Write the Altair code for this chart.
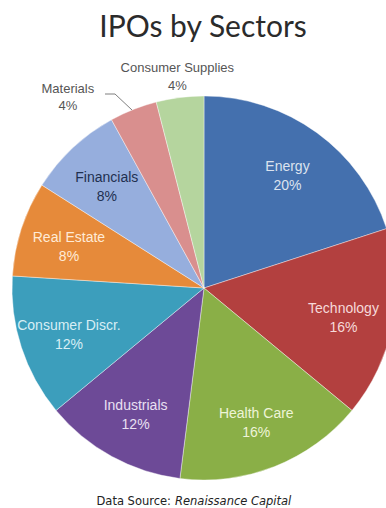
import altair as alt
import pandas as pd

sectors = ["Energy", "Technology", "Health Care", "Industrials", "Consumer Discr.",
           "Real Estate", "Financials", "Materials", "Consumer Supplies"]
shares = [20, 16, 16, 12, 12, 8, 8, 4, 4]
colors = ["#4470AE", "#B3403F", "#8AAF47", "#6D4A97", "#3C9EBC",
          "#E68A3A", "#96AEDD", "#D98F8E", "#B5D59E"]
label_colors = ["#DCE3EF", "#F6DADA", "#EEF4D8", "#E9E0F2", "#D8EEF5",
                "#FFEAD6", "#1F3050", "#555555", "#555555"]
inside = [True, True, True, True, True, True, True, False, False]

rows = []
cum = 0
for i, (s, v) in enumerate(zip(sectors, shares)):
    rows.append({
        "sector": s, "value": v, "order": i,
        "mid": cum + v / 2,
        "label": f"{s}\n{v}%",
        "color": colors[i], "lcolor": label_colors[i], "inside": inside[i],
    })
    cum += v
df = pd.DataFrame(rows)

CX, CY, R = 204, 288, 192
theta_scale = alt.Scale(domain=[0, 100])
LFONT = "Liberation Sans"

base = alt.Chart(df)

arcs = base.mark_arc(radius=R, stroke="#FFFFFF", strokeWidth=0.4).encode(
    theta=alt.Theta("value:Q", stack=True, scale=theta_scale),
    order=alt.Order("order:Q"),
    color=alt.Color("color:N", scale=None),
    x=alt.value(CX), y=alt.value(CY),
)

inner = base.transform_filter("datum.inside").mark_text(
    radius=142, dy=-6, font=LFONT, fontSize=14, lineBreak="\n",
    lineHeight=19, align="center", baseline="middle",
).encode(
    theta=alt.Theta("mid:Q", scale=theta_scale),
    text="label:N",
    color=alt.Color("lcolor:N", scale=None),
    x=alt.value(CX), y=alt.value(CY),
)

cs = base.transform_filter("datum.sector == 'Consumer Supplies'").mark_text(
    radius=213, dy=-9, font=LFONT, fontSize=13, lineBreak="\n",
    lineHeight=18, align="center", baseline="middle",
).encode(
    theta=alt.Theta("mid:Q", scale=theta_scale),
    text="label:N",
    color=alt.Color("lcolor:N", scale=None),
    x=alt.value(CX), y=alt.value(CY),
)

mat = base.transform_filter("datum.sector == 'Materials'").mark_text(
    radius=215, dx=-57, dy=1, font=LFONT, fontSize=13, lineBreak="\n",
    lineHeight=17, align="center", baseline="middle",
).encode(
    theta=alt.Theta("mid:Q", scale=theta_scale),
    text="label:N",
    color=alt.Color("lcolor:N", scale=None),
    x=alt.value(CX), y=alt.value(CY),
)

leader1 = alt.Chart(pd.DataFrame({"a": [0]})).mark_rule(color="#7F7F7F", strokeWidth=1).encode(
    x=alt.value(105), x2=alt.value(115), y=alt.value(94), y2=alt.value(94))
leader2 = alt.Chart(pd.DataFrame({"a": [0]})).mark_rule(color="#7F7F7F", strokeWidth=1).encode(
    x=alt.value(115), x2=alt.value(132), y=alt.value(94), y2=alt.value(110))

title = alt.Chart(pd.DataFrame({"t": ["IPOs by Sectors"]})).mark_text(
    font="Lato", fontSize=30, color="#2B2B2B", align="center", baseline="alphabetic"
).encode(text="t:N", x=alt.value(203), y=alt.value(37))

src1 = alt.Chart(pd.DataFrame({"t": ["Data Source:"]})).mark_text(
    font="DejaVu Sans", fontSize=11.5, color="#222222", align="right", baseline="alphabetic"
).encode(text="t:N", x=alt.value(171), y=alt.value(505))
src2 = alt.Chart(pd.DataFrame({"t": ["Renaissance Capital"]})).mark_text(
    font="DejaVu Sans", fontSize=11.5, fontStyle="italic", color="#222222",
    align="left", baseline="alphabetic"
).encode(text="t:N", x=alt.value(175), y=alt.value(505))

chart = alt.layer(arcs, inner, cs, mat, leader1, leader2, title, src1, src2).properties(
    width=386, height=508,
    autosize=alt.AutoSizeParams(type="none"),
    padding=0,
    background="#FFFFFF",
).configure_view(stroke=None)

chart.save("out.html", embed_options={"renderer": "svg", "actions": False})
